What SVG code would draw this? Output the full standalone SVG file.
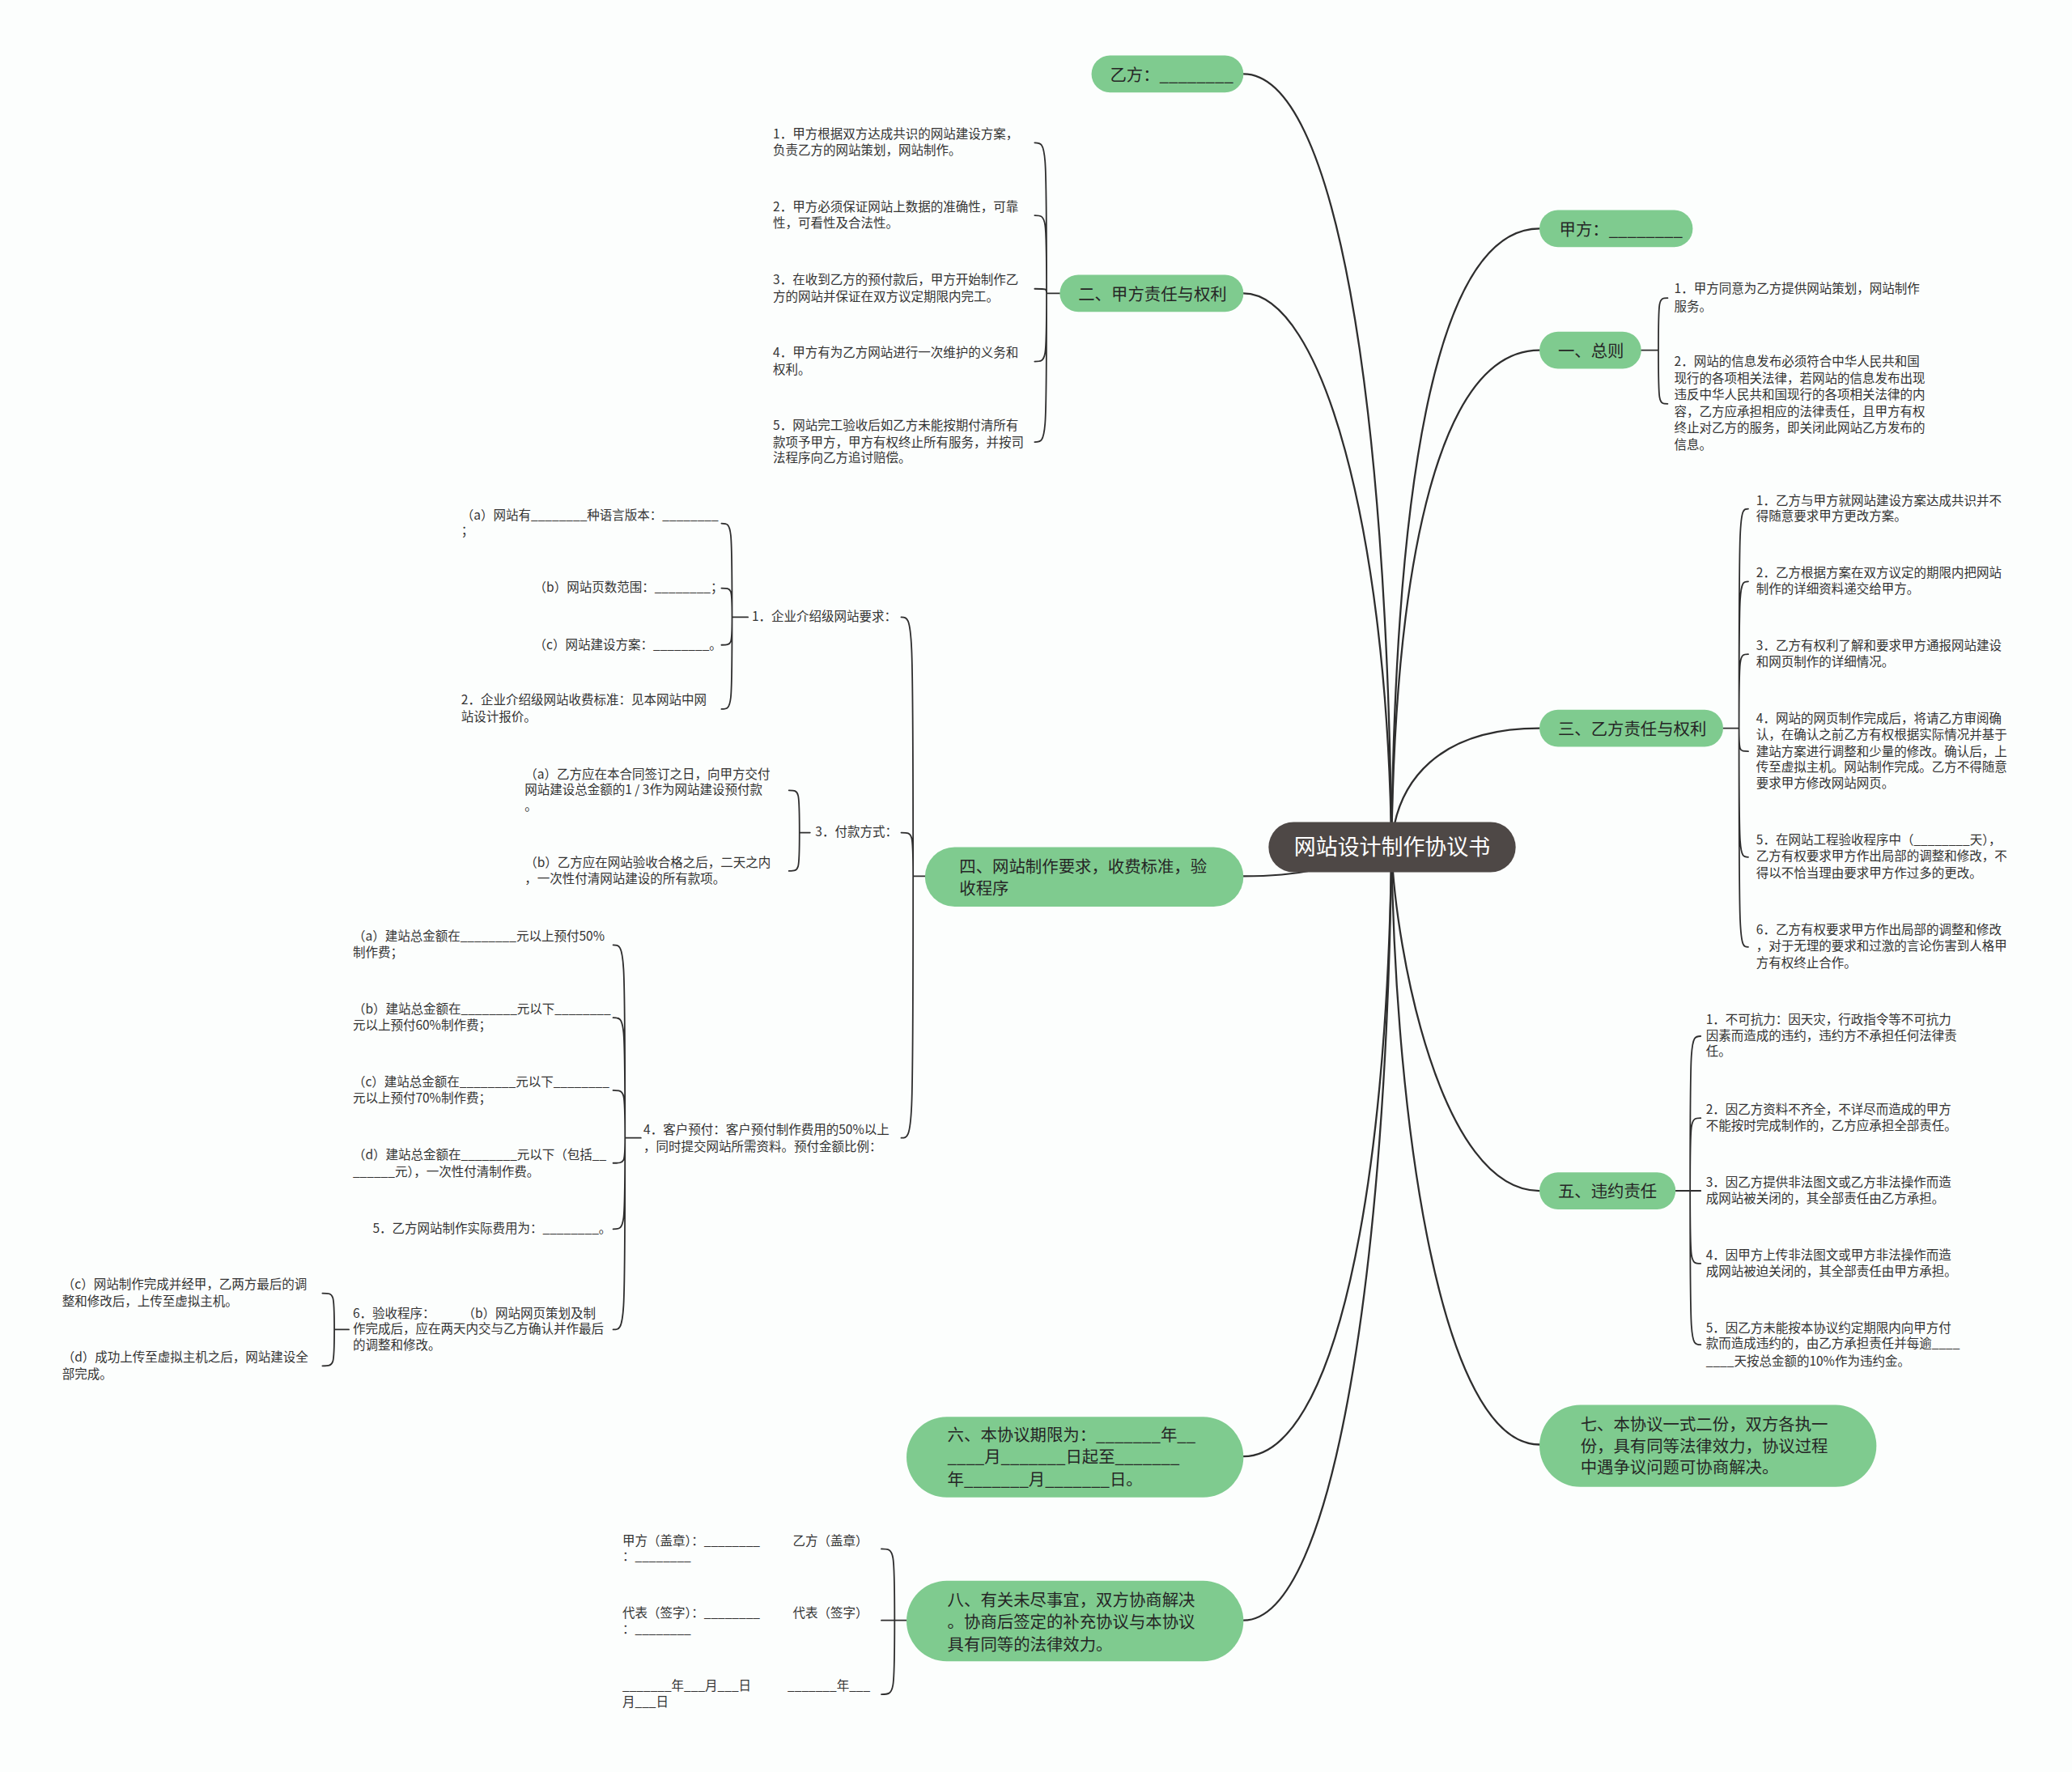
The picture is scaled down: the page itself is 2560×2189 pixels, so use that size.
<svg xmlns="http://www.w3.org/2000/svg" width="2560" height="2189" viewBox="0 0 2560 2189">
<style>
.bg{fill:#fcfefd}
.n rect{fill:#7fcb8f}
.c rect{fill:#4e4846}
.t{font-family:"Noto Sans CJK SC","Noto Sans",sans-serif;font-size:12.5px;fill:#262626}
.ct{font-family:"Noto Sans CJK SC","Noto Sans",sans-serif;font-size:16.5px;fill:#ffffff}
.l{font-family:"Noto Sans CJK SC","Noto Sans",sans-serif;font-size:9.5px;fill:#333333}
.m{fill:none;stroke:#2e2e2e;stroke-width:1.4;stroke-linecap:round}
.b{fill:none;stroke:#2e2e2e;stroke-width:1.1;stroke-linecap:round}
</style>
<rect class="bg" x="0" y="0" width="2560" height="2189"/>
<g transform="scale(1.632653)">
<g id="connectors">
<path class="m" d="M941,56 C1010,56 1050,300 1053,641"/>
<path class="m" d="M941,222 C1000,222 1050,400 1053,641"/>
<path class="m" d="M1165,173 C1090,173 1056,350 1053,641"/>
<path class="m" d="M1165,265 C1090,265 1056,420 1053,641"/>
<path class="m" d="M1165,551 C1090,551 1056,590 1053,641"/>
<path class="m" d="M941,663 C990,663 1010,655 1053,641"/>
<path class="m" d="M1165,901 C1090,901 1056,720 1053,641"/>
<path class="m" d="M1165,1093 C1090,1093 1056,850 1053,641"/>
<path class="m" d="M941,1102 C1010,1102 1050,900 1053,641"/>
<path class="m" d="M941,1226 C1010,1226 1050,950 1053,641"/>
<path class="b" d="M802,222 L792,222 M792,222 C792,108 792,108 783,108 M792,222 C792,163 792,163 783,163 M792,222 C792,218.5 792,218.5 783,218.5 M792,222 C792,273.5 792,273.5 783,273.5 M792,222 C792,334.5 792,334.5 783,334.5"/>
<path class="b" d="M1242,265 L1255,265 M1255,265 C1255,225.5 1255,225.5 1262,225.5 M1255,265 C1255,305.5 1255,305.5 1262,305.5"/>
<path class="b" d="M1304,551 L1316,551 M1316,551 C1316,385 1316,385 1323,385 M1316,551 C1316,440 1316,440 1323,440 M1316,551 C1316,495 1316,495 1323,495 M1316,551 C1316,568.5 1316,568.5 1323,568.5 M1316,551 C1316,648.5 1316,648.5 1323,648.5 M1316,551 C1316,716.5 1316,716.5 1323,716.5"/>
<path class="b" d="M1268,901 L1279,901 M1279,901 C1279,784 1279,784 1287,784 M1279,901 C1279,846 1279,846 1287,846 M1279,901 L1287,901 M1279,901 C1279,956 1279,956 1287,956 M1279,901 C1279,1017.5 1279,1017.5 1287,1017.5"/>
<path class="b" d="M700,663 L691,663 M691,663 C691,467 691,467 682,467 M691,663 C691,630 691,630 682,630 M691,663 C691,861 691,861 682,861"/>
<path class="b" d="M566,467 L554,467 M554,467 C554,396 554,396 546,396 M554,467 C554,445 554,445 546,445 M554,467 C554,488 554,488 546,488 M554,467 C554,536.5 554,536.5 546,536.5"/>
<path class="b" d="M613,630 L605,630 M605,630 C605,598 605,598 597,598 M605,630 C605,659 605,659 597,659"/>
<path class="b" d="M485,861 L473,861 M473,861 C473,715 473,715 464,715 M473,861 C473,770 473,770 464,770 M473,861 C473,825 473,825 464,825 M473,861 C473,880 473,880 464,880 M473,861 C473,930 473,930 464,930 M473,861 C473,1006 473,1006 464,1006"/>
<path class="b" d="M264,1006 L253,1006 M253,1006 C253,978.5 253,978.5 244,978.5 M253,1006 C253,1033.5 253,1033.5 244,1033.5"/>
<path class="b" d="M686,1226 L677,1226 M677,1226 C677,1172 677,1172 667,1172 M677,1226 L667,1226 M677,1226 C677,1282 677,1282 667,1282"/>
</g>

<g id="root" class="c"><rect x="960" y="622" width="187" height="38" rx="19"/><text class="ct" x="1053.5" y="647" text-anchor="middle">网站设计制作协议书</text></g>

<g id="yifang" class="n"><rect x="826" y="42" width="115" height="28" rx="14"/><text class="t" x="840" y="61">乙方：________</text></g>
<g id="er" class="n"><rect x="802" y="208" width="139" height="28" rx="14"/><text class="t" x="816" y="227">二、甲方责任与权利</text></g>
<g id="jiafang" class="n"><rect x="1165" y="159" width="116" height="28" rx="14"/><text class="t" x="1180" y="178">甲方：________</text></g>
<g id="yi" class="n"><rect x="1165" y="251" width="77" height="28" rx="14"/><text class="t" x="1179" y="270">一、总则</text></g>
<g id="san" class="n"><rect x="1165" y="537" width="139" height="28" rx="14"/><text class="t" x="1179" y="556">三、乙方责任与权利</text></g>
<g id="si" class="n"><rect x="700" y="641" width="241" height="45" rx="22.5"/><text class="t" x="726" y="660">四、网站制作要求，收费标准，验<tspan x="726" y="677">收程序</tspan></text></g>
<g id="wu" class="n"><rect x="1165" y="887" width="103" height="28" rx="14"/><text class="t" x="1179" y="906">五、违约责任</text></g>
<g id="liu" class="n"><rect x="686" y="1072" width="255" height="61" rx="30.5"/><text class="t" x="717" y="1090">六、本协议期限为：_______年__<tspan x="717" y="1107">____月_______日起至_______</tspan><tspan x="717" y="1124">年_______月_______日。</tspan></text></g>
<g id="qi" class="n"><rect x="1165" y="1063" width="255" height="62" rx="31"/><text class="t" x="1196" y="1082">七、本协议一式二份，双方各执一<tspan x="1196" y="1099">份，具有同等法律效力，协议过程</tspan><tspan x="1196" y="1115">中遇争议问题可协商解决。</tspan></text></g>
<g id="ba" class="n"><rect x="686" y="1196" width="255" height="61" rx="30.5"/><text class="t" x="717" y="1215">八、有关未尽事宜，双方协商解决<tspan x="717" y="1232">。协商后签定的补充协议与本协议</tspan><tspan x="717" y="1249">具有同等的法律效力。</tspan></text></g>

<g id="er1"><text class="l" x="585" y="105">1．甲方根据双方达成共识的网站建设方案，<tspan x="585" y="117">负责乙方的网站策划，网站制作。</tspan></text></g>
<g id="er2"><text class="l" x="585" y="160">2．甲方必须保证网站上数据的准确性，可靠<tspan x="585" y="172">性，可看性及合法性。</tspan></text></g>
<g id="er3"><text class="l" x="585" y="215">3．在收到乙方的预付款后，甲方开始制作乙<tspan x="585" y="228">方的网站并保证在双方议定期限内完工。</tspan></text></g>
<g id="er4"><text class="l" x="585" y="270">4．甲方有为乙方网站进行一次维护的义务和<tspan x="585" y="283">权利。</tspan></text></g>
<g id="er5"><text class="l" x="585" y="325">5．网站完工验收后如乙方未能按期付清所有<tspan x="585" y="338">款项予甲方，甲方有权终止所有服务，并按司</tspan><tspan x="585" y="350">法程序向乙方追讨赔偿。</tspan></text></g>

<g id="yi1"><text class="l" x="1267" y="222">1．甲方同意为乙方提供网站策划，网站制作<tspan x="1267" y="235">服务。</tspan></text></g>
<g id="yi2"><text class="l" x="1267" y="277">2．网站的信息发布必须符合中华人民共和国<tspan x="1267" y="290">现行的各项相关法律，若网站的信息发布出现</tspan><tspan x="1267" y="302">违反中华人民共和国现行的各项相关法律的内</tspan><tspan x="1267" y="315">容，乙方应承担相应的法律责任，且甲方有权</tspan><tspan x="1267" y="327">终止对乙方的服务，即关闭此网站乙方发布的</tspan><tspan x="1267" y="340">信息。</tspan></text></g>

<g id="san1"><text class="l" x="1329" y="382">1．乙方与甲方就网站建设方案达成共识并不<tspan x="1329" y="394">得随意要求甲方更改方案。</tspan></text></g>
<g id="san2"><text class="l" x="1329" y="437">2．乙方根据方案在双方议定的期限内把网站<tspan x="1329" y="449">制作的详细资料递交给甲方。</tspan></text></g>
<g id="san3"><text class="l" x="1329" y="492">3．乙方有权利了解和要求甲方通报网站建设<tspan x="1329" y="504">和网页制作的详细情况。</tspan></text></g>
<g id="san4"><text class="l" x="1329" y="547">4．网站的网页制作完成后，将请乙方审阅确<tspan x="1329" y="559">认，在确认之前乙方有权根据实际情况并基于</tspan><tspan x="1329" y="572">建站方案进行调整和少量的修改。确认后，上</tspan><tspan x="1329" y="584">传至虚拟主机。网站制作完成。乙方不得随意</tspan><tspan x="1329" y="596">要求甲方修改网站网页。</tspan></text></g>
<g id="san5"><text class="l" x="1329" y="639">5．在网站工程验收程序中（________天），<tspan x="1329" y="651">乙方有权要求甲方作出局部的调整和修改，不</tspan><tspan x="1329" y="664">得以不恰当理由要求甲方作过多的更改。</tspan></text></g>
<g id="san6"><text class="l" x="1329" y="707">6．乙方有权要求甲方作出局部的调整和修改<tspan x="1329" y="719">，对于无理的要求和过激的言论伤害到人格甲</tspan><tspan x="1329" y="732">方有权终止合作。</tspan></text></g>

<g id="wu1"><text class="l" x="1291" y="775">1．不可抗力：因天灾，行政指令等不可抗力<tspan x="1291" y="787">因素而造成的违约，违约方不承担任何法律责</tspan><tspan x="1291" y="799">任。</tspan></text></g>
<g id="wu2"><text class="l" x="1291" y="843">2．因乙方资料不齐全，不详尽而造成的甲方<tspan x="1291" y="855">不能按时完成制作的，乙方应承担全部责任。</tspan></text></g>
<g id="wu3"><text class="l" x="1291" y="898">3．因乙方提供非法图文或乙方非法操作而造<tspan x="1291" y="910">成网站被关闭的，其全部责任由乙方承担。</tspan></text></g>
<g id="wu4"><text class="l" x="1291" y="953">4．因甲方上传非法图文或甲方非法操作而造<tspan x="1291" y="965">成网站被迫关闭的，其全部责任由甲方承担。</tspan></text></g>
<g id="wu5"><text class="l" x="1291" y="1008">5．因乙方未能按本协议约定期限内向甲方付<tspan x="1291" y="1020">款而造成违约的，由乙方承担责任并每逾____</tspan><tspan x="1291" y="1033">____天按总金额的10%作为违约金。</tspan></text></g>

<g id="si1"><text class="l" x="569" y="470">1．企业介绍级网站要求：</text></g>
<g id="si1a"><text class="l" x="349" y="393">（a）网站有________种语言版本：________<tspan x="349" y="405">；</tspan></text></g>
<g id="si1b"><text class="l" x="404" y="448">（b）网站页数范围：________；</text></g>
<g id="si1c"><text class="l" x="404" y="491">（c）网站建设方案：________。</text></g>
<g id="si2"><text class="l" x="349" y="533">2．企业介绍级网站收费标准：见本网站中网<tspan x="349" y="546">站设计报价。</tspan></text></g>
<g id="si3"><text class="l" x="617" y="633">3．付款方式：</text></g>
<g id="si3a"><text class="l" x="397" y="589">（a）乙方应在本合同签订之日，向甲方交付<tspan x="397" y="601">网站建设总金额的1 / 3作为网站建设预付款</tspan><tspan x="397" y="613">。</tspan></text></g>
<g id="si3b"><text class="l" x="397" y="656">（b）乙方应在网站验收合格之后，二天之内<tspan x="397" y="668">，一次性付清网站建设的所有款项。</tspan></text></g>
<g id="si4"><text class="l" x="487" y="858">4．客户预付：客户预付制作费用的50%以上<tspan x="487" y="871">，同时提交网站所需资料。预付金额比例：</tspan></text></g>
<g id="si4a"><text class="l" x="267" y="712">（a）建站总金额在________元以上预付50%<tspan x="267" y="724">制作费；</tspan></text></g>
<g id="si4b"><text class="l" x="267" y="767">（b）建站总金额在________元以下________<tspan x="267" y="779">元以上预付60%制作费；</tspan></text></g>
<g id="si4c"><text class="l" x="267" y="822">（c）建站总金额在________元以下________<tspan x="267" y="834">元以上预付70%制作费；</tspan></text></g>
<g id="si4d"><text class="l" x="267" y="877">（d）建站总金额在________元以下（包括__<tspan x="267" y="890">______元），一次性付清制作费。</tspan></text></g>
<g id="si5"><text class="l" x="282" y="933">5．乙方网站制作实际费用为：________。</text></g>
<g id="si6"><text class="l" x="267" y="997">6．验收程序：<tspan x="350" y="997">（b）网站网页策划及制</tspan><tspan x="267" y="1009">作完成后，应在两天内交与乙方确认并作最后</tspan><tspan x="267" y="1021">的调整和修改。</tspan></text></g>
<g id="si6c"><text class="l" x="47" y="975">（c）网站制作完成并经甲，乙两方最后的调<tspan x="47" y="988">整和修改后，上传至虚拟主机。</tspan></text></g>
<g id="si6d"><text class="l" x="47" y="1030">（d）成功上传至虚拟主机之后，网站建设全<tspan x="47" y="1043">部完成。</tspan></text></g>

<g id="ba1"><text class="l" x="471" y="1169">甲方（盖章）：________<tspan x="600" y="1169">乙方（盖章）</tspan><tspan x="471" y="1181">：________</tspan></text></g>
<g id="ba2"><text class="l" x="471" y="1224">代表（签字）：________<tspan x="600" y="1224">代表（签字）</tspan><tspan x="471" y="1236">：________</tspan></text></g>
<g id="ba3"><text class="l" x="471" y="1279">_______年___月___日<tspan x="596" y="1279">_______年___</tspan><tspan x="471" y="1291">月___日</tspan></text></g>
</g>
</svg>
